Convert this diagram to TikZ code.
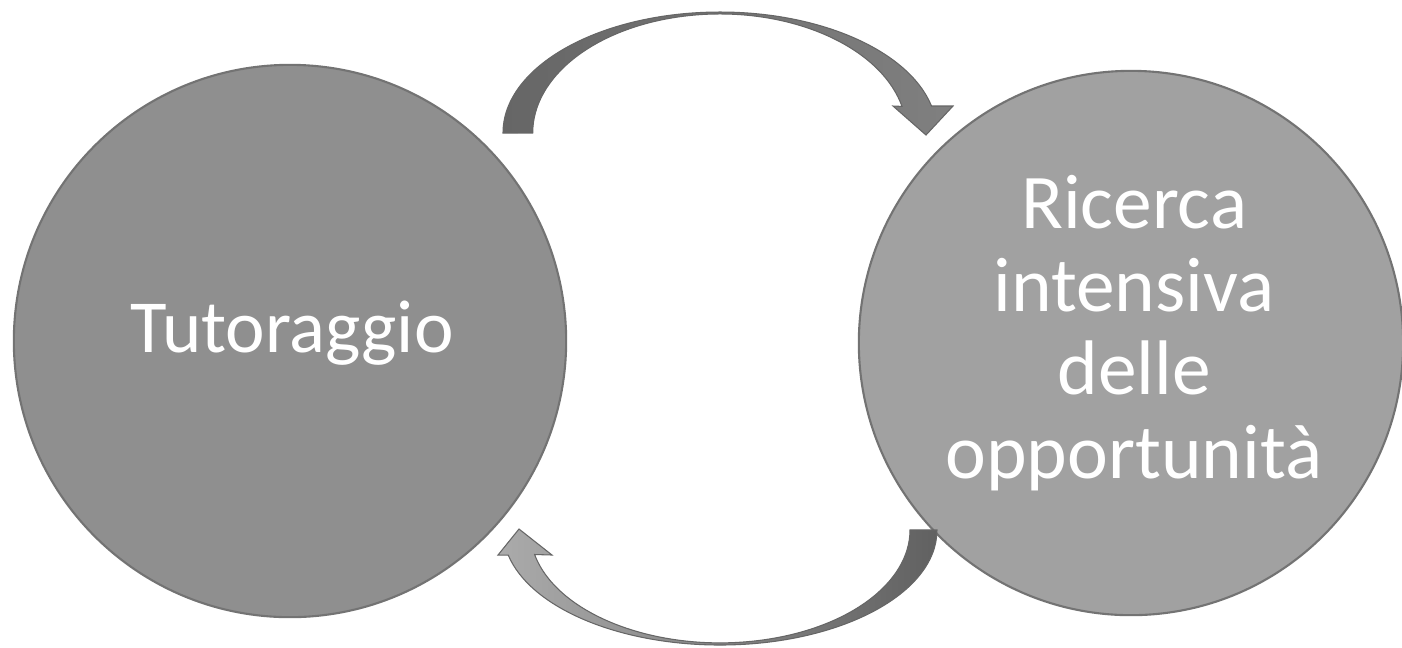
\documentclass[tikz,border=0pt]{standalone}
\usepackage{fontspec}
\setmainfont{Carlito}
\begin{document}
\begin{tikzpicture}[x=0.01cm,y=-0.01cm,
  bubble/.style={circle, inner sep=0pt, draw=black!55, line width=0.6pt},
  caption/.style={text=white, inner sep=0pt, anchor=base},
  curvedarrow/.style={draw=black!60, line width=0.3pt}]
\useasboundingbox[fill=white] (0,0) rectangle (1402,647);
\node[bubble, fill=black!44, minimum size=5.52cm] (tut) at (290,341) {};
\node[bubble, fill=black!37, minimum size=5.44cm] (ric) at (1131,343) {};
\node[caption, font=\fontsize{21.3}{24}\selectfont] (tuttext) at (292,352) {Tutoraggio};
\begin{scope}[every node/.style={caption, font=\fontsize{22}{24}\selectfont}]
\node (ric1) at (1134,228) {Ricerca};
\node (ric2) at (1134,311) {intensiva};
\node (ric3) at (1134,394) {delle};
\node (ric4) at (1134,478) {opportunità};
\end{scope}
% top arrow: from Tutoraggio to Ricerca
\coordinate (tstart) at (503,133);
\coordinate (ttip) at (926,135);
\path[curvedarrow, left color=black!60, right color=black!50]
  (tstart) arc[start angle=180,end angle=347.1,x radius=217,y radius=121]
  -- (953,106) -- (ttip) -- (893,106) -- (902,106.4)
  arc[start angle=347.1,end angle=180,x radius=187,y radius=119] -- cycle;
% bottom arrow: from Ricerca to Tutoraggio
\coordinate (bstart) at (937,530);
\coordinate (btip) at (519,529);
\path[curvedarrow, left color=black!33, right color=black!62]
  (bstart) arc[start angle=0,end angle=167.4,x radius=217,y radius=115]
  -- (498,555) -- (btip) -- (552,555) -- (534.6,554.5)
  arc[start angle=167.4,end angle=0,x radius=190,y radius=113] -- cycle;
\end{tikzpicture}
\end{document}
